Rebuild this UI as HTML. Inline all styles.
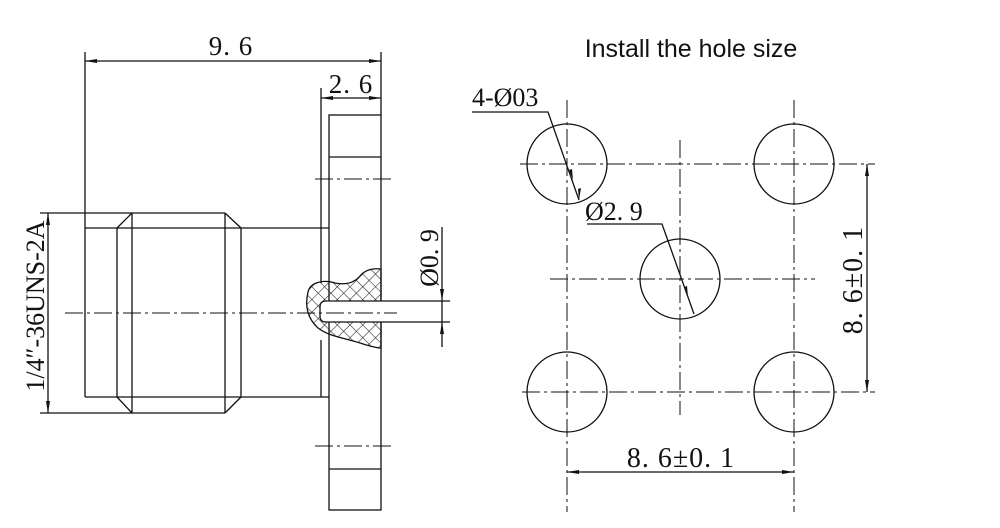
<!DOCTYPE html>
<html><head><meta charset="utf-8"><style>
body{margin:0;background:#fff}
svg{display:block}
text{font-family:"Liberation Serif","DejaVu Serif",serif;fill:#111}
</style></head><body>
<svg width="1000" height="528" viewBox="0 0 1000 528" xmlns="http://www.w3.org/2000/svg">
<defs>
<pattern id="h" width="9" height="9" patternUnits="userSpaceOnUse" patternTransform="rotate(45)">
<line x1="0" y1="0" x2="0" y2="9" stroke="#222" stroke-width="1.1"/>
<line x1="0" y1="0" x2="9" y2="0" stroke="#222" stroke-width="1.1"/>
</pattern>
</defs>
<g stroke="#111" stroke-width="1.3" fill="none">
<line x1="85" y1="52" x2="85" y2="228"/>
<line x1="381" y1="52" x2="381" y2="115"/>
<line x1="85" y1="61" x2="381" y2="61"/>
<line x1="321" y1="88" x2="321" y2="283"/>
<line x1="321" y1="98" x2="381" y2="98"/>
<line x1="321" y1="340" x2="321" y2="397"/>
<rect x="329" y="115" width="52" height="395"/>
<line x1="329" y1="157" x2="381" y2="157"/>
<line x1="329" y1="469" x2="381" y2="469"/>
<line x1="85" y1="228" x2="329" y2="228"/>
<line x1="85" y1="397" x2="329" y2="397"/>
<line x1="85" y1="228" x2="85" y2="397"/>
<line x1="40" y1="213" x2="225" y2="213"/>
<line x1="40" y1="413" x2="225" y2="413"/>
<line x1="117" y1="228" x2="117" y2="397"/>
<line x1="132" y1="213" x2="132" y2="413"/>
<line x1="225" y1="213" x2="225" y2="413"/>
<line x1="241" y1="228" x2="241" y2="397"/>
<line x1="117" y1="228" x2="132" y2="213"/>
<line x1="117" y1="397" x2="132" y2="413"/>
<line x1="225" y1="213" x2="241" y2="228"/>
<line x1="225" y1="413" x2="241" y2="397"/>
<line x1="48" y1="213" x2="48" y2="413"/>
<path d="M381 269 C372 268 365 270 360 276 C354 283 345 285 335 283 C322 279 310 283 308 292 C305 305 307 318 318 328 C330 337 345 338 360 343 C370 346 376 348 381 348 Z" fill="url(#h)"/>
<path d="M450 301 L326 301 Q320 301 320 307 L320 316 Q320 322 326 322 L450 322" fill="#fff"/>
<line x1="442" y1="227" x2="442" y2="347"/>
</g>
<g stroke="#111" stroke-width="1" fill="none" stroke-dasharray="18,4,3,4">
<line x1="65" y1="313" x2="397" y2="313"/>
<line x1="315" y1="179" x2="391" y2="179"/>
<line x1="315" y1="446" x2="391" y2="446"/>
<line x1="567" y1="100" x2="567" y2="512"/>
<line x1="794" y1="100" x2="794" y2="512"/>
<line x1="680" y1="140" x2="680" y2="415"/>
<line x1="520" y1="164" x2="875" y2="164"/>
<line x1="550" y1="279" x2="815" y2="279"/>
<line x1="522" y1="392" x2="875" y2="392"/>
</g>
<g stroke="#111" stroke-width="1.3" fill="none">
<circle cx="567" cy="164" r="40"/><circle cx="794" cy="164" r="40"/>
<circle cx="567" cy="392" r="40"/><circle cx="794" cy="392" r="40"/>
<circle cx="680" cy="279" r="40"/>
<line x1="867" y1="164" x2="867" y2="392"/>
<line x1="567" y1="472" x2="794" y2="472"/>
<polyline points="472,112 548,112 579,200"/>
<polyline points="587,224 662,224 694,314"/>
</g>
<g fill="#111">
<path d="M85 61 l12 -2 v4z M381 61 l-12 -2 v4z M321 98 l12 -2 v4z M381 98 l-12 -2 v4z"/>
<path d="M48 213 l-2 12 h4z M48 413 l-2 -12 h4z"/>
<path d="M442 301 l-2 -12 h4z M442 322 l-2 12 h4z"/>
<path d="M867 164 l-2 12 h4z M867 392 l-2 -12 h4z M567 472 l12 -2 v4z M794 472 l-12 -2 v4z"/>
<path d="M573 180 l-4 -10 l3 -1z M579 200 l-1 -11 l3 -1z M688 297 l-4 -10 l3 -1z"/>
</g>
<text x="231" y="55" font-size="27" text-anchor="middle" style="letter-spacing:1px">9. 6</text>
<text x="351" y="93" font-size="27" text-anchor="middle" style="letter-spacing:1px">2. 6</text>
<text transform="translate(44,306) rotate(-90)" font-size="26" text-anchor="middle">1/4″-36UNS-2A</text>
<text transform="translate(438,258) rotate(-90)" font-size="26" text-anchor="middle">Ø0. 9</text>
<text x="472" y="106" font-size="26">4-Ø03</text>
<text x="585" y="220" font-size="26">Ø2. 9</text>
<text x="681" y="467" font-size="28" text-anchor="middle" style="letter-spacing:1px">8. 6±0. 1</text>
<text transform="translate(862,280) rotate(-90)" font-size="28" text-anchor="middle" style="letter-spacing:1px">8. 6±0. 1</text>
<text x="691" y="57" font-size="25" text-anchor="middle" style="font-family:'Liberation Sans',sans-serif">Install the hole size</text>
</svg>
</body></html>
